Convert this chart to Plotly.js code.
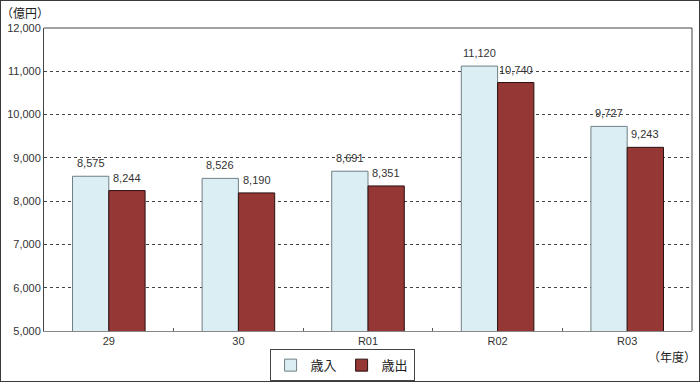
<!DOCTYPE html>
<html><head><meta charset="utf-8">
<script src="https://cdn.plot.ly/plotly-3.0.1.min.js"></script>
<style>
html,body{margin:0;padding:0;background:#fff;}
#chart{width:698px;height:380px;border:1px solid #3a3a3a;}
</style></head>
<body><div id="chart"></div>
<script>
const categories = ['29', '30', 'R01', 'R02', 'R03'];
const revenue = [8575, 8526, 8691, 11120, 9727];
const expenditure = [8244, 8190, 8351, 10740, 9243];
const seriesNames = ['歳入', '歳出'];
const yTicks = [5000, 6000, 7000, 8000, 9000, 10000, 11000, 12000];

const fontFam = '"Liberation Sans", Arial, "Noto Sans CJK JP", sans-serif';
const traces = [
  {type:'bar', name:seriesNames[0], x:categories, y:revenue,
   marker:{color:'#DBEEF4', line:{color:'#6f7f85', width:1}}},
  {type:'bar', name:seriesNames[1], x:categories, y:expenditure,
   marker:{color:'#953735', line:{color:'#2a1010', width:1}}}
];
const fmt = v => v.toLocaleString('en-US');
const labelAnns = [];
[[revenue, -18.2], [expenditure, 18.2]].forEach(([vals, dx]) => {
  vals.forEach((v, i) => labelAnns.push({
    x: i, y: v, xref:'x', yref:'y', text: fmt(v), showarrow:false,
    xanchor:'center', yanchor:'bottom', xshift: dx, yshift: 5,
    font:{size:11, color:'#333', family:fontFam}
  }));
});
const layout = {
  width:698, height:380,
  margin:{l:43, r:7, t:27, b:50, autoexpand:false},
  paper_bgcolor:'#fff', plot_bgcolor:'#fff',
  font:{family:fontFam, size:11, color:'#333'},
  barmode:'group', bargap:0.44, bargroupgap:0,
  showlegend:true,
  legend:{orientation:'h', x:0.46, xanchor:'center', y:-0.06, yanchor:'top',
    bordercolor:'#444', borderwidth:1, font:{size:13, color:'#222', family:'"Noto Sans CJK JP", sans-serif'},
    itemwidth:30, traceorder:'normal'},
  xaxis:{type:'category', categoryarray:categories, showline:true, linecolor:'#888', linewidth:1, mirror:false,
    ticks:'inside', tickson:'boundaries', ticklen:3, tickcolor:'#555',
    tickfont:{size:11, color:'#333'}, showgrid:false},
  yaxis:{range:[5000,12000], tickvals:yTicks, tickformat:',', showline:true, linecolor:'#444',
    linewidth:1, showgrid:true, gridcolor:'#444', griddash:'dot', gridwidth:1,
    zeroline:false, ticks:'', tickfont:{size:11, color:'#333'}},
  shapes:[
    {type:'line', xref:'paper', yref:'paper', x0:0, x1:1, y0:1, y1:1, line:{color:'#444', width:1}},
    {type:'line', xref:'paper', yref:'paper', x0:1, x1:1, y0:0, y1:1, line:{color:'#444', width:1}}
  ],
  annotations: labelAnns.concat([
    {text:'（億円）', xref:'paper', yref:'paper', x:-0.07, y:1.05, xanchor:'left', yanchor:'middle',
     showarrow:false, font:{size:12, color:'#222', family:'"Noto Sans CJK JP", sans-serif'}},
    {text:'（年度）', xref:'paper', yref:'paper', x:1.01, y:-0.083, xanchor:'right', yanchor:'middle',
     showarrow:false, font:{size:12, color:'#222', family:'"Noto Sans CJK JP", sans-serif'}}
  ])
};
Plotly.newPlot('chart', traces, layout, {displayModeBar:false, staticPlot:true});
</script></body></html>
